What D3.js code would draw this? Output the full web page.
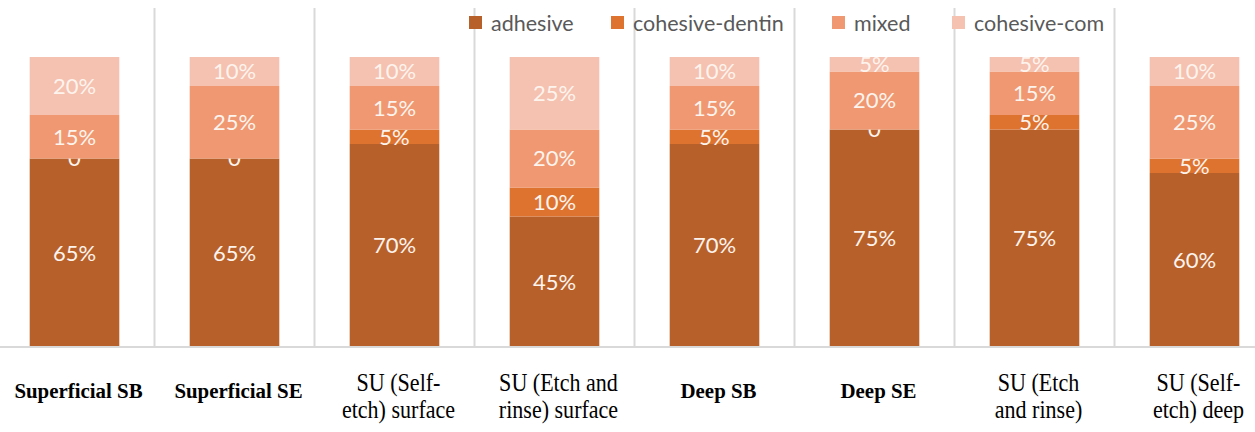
<!DOCTYPE html>
<html>
<head>
<meta charset="utf-8">
<script src="https://cdn.jsdelivr.net/npm/d3@7"></script>
<style>
  body { margin: 0; background: #fff; }
  svg { display: block; }
</style>
</head>
<body>
<div id="chart"></div>
<script>
(function(){
    // data ================================================================
    var categories = [
        ['Superficial SB'],
        ['Superficial SE'],
        ['SU (Self-', 'etch) surface'],
        ['SU (Etch and', 'rinse) surface'],
        ['Deep SB'],
        ['Deep SE'],
        ['SU (Etch', 'and rinse)'],
        ['SU (Self-', 'etch) deep']
    ];
    var boldLabel = [true, true, false, false, true, true, false, false];

    var seriesNames = ['adhesive', 'cohesive-dentin', 'mixed', 'cohesive-com'];
    var adhesive       = [65, 65, 70, 45, 70, 75, 75, 60];
    var cohesiveDentin = [0, 0, 5, 10, 5, 0, 5, 5];
    var mixed          = [15, 25, 15, 20, 15, 20, 15, 25];
    var cohesiveCom    = [20, 10, 10, 25, 10, 5, 5, 10];
    var colors = ['#b8602a', '#dd732f', '#ef9871', '#f5c1b0'];

    var WIDTH  = 1255,
        HEIGHT = 432,
        BASE   = 347;

    // build table for stack
    var rows = categories.map(function(c, i){
        return {
            idx: i,
            'adhesive': adhesive[i],
            'cohesive-dentin': cohesiveDentin[i],
            'mixed': mixed[i],
            'cohesive-com': cohesiveCom[i]
        };
    });

    var svg = d3.select('#chart').append('svg')
        .attr('width', WIDTH)
        .attr('height', HEIGHT);

    var x = d3.scaleBand()
        .domain(d3.range(categories.length))
        .range([-5.5, 1274.5])
        .paddingInner(0.44)
        .paddingOuter(0.22);

    var y = d3.scaleLinear()
        .domain([0, 100])
        .range([BASE, 57]);

    // separators between categories
    function sepX(i){ return x(i) - x.step() * x.paddingInner() / 2; }

    svg.append('g').attr('class', 'separators').selectAll('line')
        .data(d3.range(1, categories.length))
        .enter().append('line')
        .attr('x1', sepX)
        .attr('x2', sepX)
        .attr('y1', 8)
        .attr('y2', BASE)
        .attr('stroke', '#d9d9d9')
        .attr('stroke-width', 2);

    var layers = d3.stack().keys(seriesNames)(rows);

    var g = svg.append('g').selectAll('g')
        .data(layers)
        .enter().append('g')
        .attr('fill', function(d, i){ return colors[i]; });

    g.selectAll('rect')
        .data(function(d){ return d; })
        .enter().append('rect')
        .attr('x', function(d){ return x(d.data.idx); })
        .attr('width', x.bandwidth())
        .attr('y', function(d){ return y(d[1]); })
        .attr('height', function(d){ return y(d[0]) - y(d[1]); });

    // data labels
    g.selectAll('text')
        .data(function(d){ return d; })
        .enter().append('text')
        .attr('x', function(d){ return x(d.data.idx) + x.bandwidth() / 2; })
        .attr('y', function(d){ return (y(d[0]) + y(d[1])) / 2; })
        .attr('dy', '0.36em')
        .attr('text-anchor', 'middle')
        .style('font-family', 'Lato, "Open Sans", sans-serif')
        .style('font-size', '22px')
        .attr('fill', '#fdf4ee')
        .text(function(d){ var v = d[1] - d[0]; return v === 0 ? '0' : v + '%'; });

    // axis line
    svg.append('line')
        .attr('x1', 0).attr('x2', WIDTH)
        .attr('y1', BASE).attr('y2', BASE)
        .attr('stroke', '#d9d9d9')
        .attr('stroke-width', 2);

    // category labels (serif, slightly condensed)
    var lab = svg.append('g').selectAll('text')
        .data(categories)
        .enter().append('text')
        .attr('transform', function(d, i){
            var cy = boldLabel[i] ? 398 : 391;
            var sx = boldLabel[i] ? 0.95 : 0.9;
            return 'translate(' + (x(i) + x.bandwidth() / 2 + 4) + ',' + cy + ') scale(' + sx + ',1)';
        })
        .attr('text-anchor', 'middle')
        .style('font-family', '"Liberation Serif", "Times New Roman", serif')
        .style('font-weight', function(d, i){ return boldLabel[i] ? 'bold' : 'normal'; })
        .style('font-size', function(d, i){ return boldLabel[i] ? '22px' : '24.5px'; })
        .attr('fill', '#000');

    lab.each(function(d){
        var t = d3.select(this);
        d.forEach(function(line, j){
            t.append('tspan')
                .attr('x', 0)
                .attr('dy', j === 0 ? 0 : 27)
                .text(line);
        });
    });

    // legend
    var legendX = [469, 611, 832, 952];
    var leg = svg.append('g').selectAll('g')
        .data(seriesNames)
        .enter().append('g')
        .attr('transform', function(d, i){ return 'translate(' + legendX[i] + ',23)'; });

    leg.append('rect')
        .attr('x', 0).attr('y', -7)
        .attr('width', 13).attr('height', 13)
        .attr('fill', function(d, i){ return colors[i]; });

    leg.append('text')
        .attr('x', 22)
        .attr('dy', '0.36em')
        .style('font-family', 'Lato, "Open Sans", sans-serif')
        .style('font-size', '21.5px')
        .attr('fill', '#595959')
        .text(function(d){ return d; });
})();
</script>
</body>
</html>
